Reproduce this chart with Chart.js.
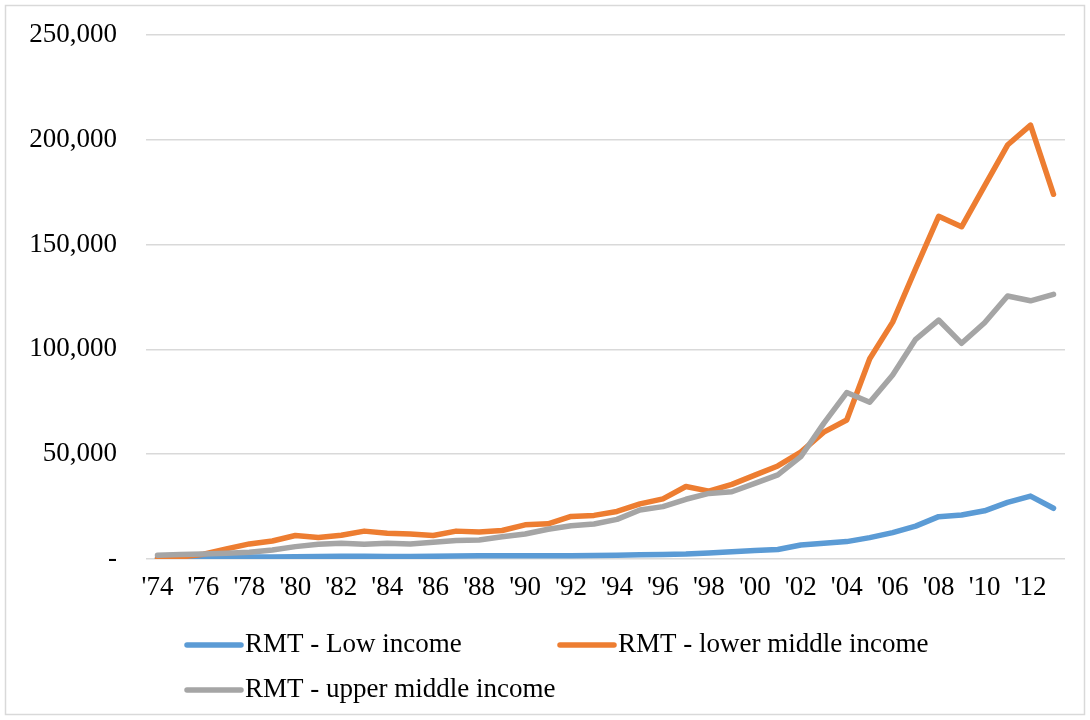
<!DOCTYPE html>
<html>
<head>
<meta charset="utf-8">
<title>RMT by income group</title>
<script src="https://cdn.jsdelivr.net/npm/chart.js@4.4.1/dist/chart.umd.min.js"></script>
<style>
  html, body { margin: 0; padding: 0; background: #ffffff; }
  #wrap { width: 1090px; height: 720px; position: relative; }
  canvas { display: block; }
</style>
</head>
<body>
<div id="wrap"><canvas id="chart" width="1090" height="720"></canvas></div>
<script>
// Years 1974–2013, shown as two-digit labels
const years = ["'74","'75","'76","'77","'78","'79","'80","'81","'82","'83",
               "'84","'85","'86","'87","'88","'89","'90","'91","'92","'93",
               "'94","'95","'96","'97","'98","'99","'00","'01","'02","'03",
               "'04","'05","'06","'07","'08","'09","'10","'11","'12","'13"];

const lowIncome = [500, 600, 700, 800, 900, 1000, 1100, 1200, 1300, 1300,
                   1200, 1200, 1300, 1400, 1500, 1500, 1500, 1500, 1600, 1700,
                   1800, 2000, 2200, 2400, 2900, 3500, 4000, 4500, 6700, 7500,
                   8300, 10200, 12600, 15700, 20200, 21000, 23000, 27000, 30000, 24200];

const lowerMiddleIncome = [300, 1000, 2300, 4800, 7200, 8600, 11200, 10300, 11300, 13300,
                           12300, 11900, 11200, 13300, 12900, 13600, 16300, 16800, 20300, 20800,
                           22700, 26300, 28700, 34600, 32400, 35600, 40000, 44400, 51000, 60500,
                           66300, 95500, 113000, 138500, 163500, 158500, 178000, 197500, 207000, 174000];

const upperMiddleIncome = [1800, 2200, 2400, 2700, 3200, 4300, 5900, 7000, 7500, 7000,
                           7500, 7200, 8000, 8800, 9100, 10600, 11900, 14200, 15900, 16700,
                           18900, 23400, 25000, 28500, 31300, 32100, 36100, 40100, 48800, 64700,
                           79400, 74800, 87800, 104800, 114000, 102900, 112700, 125500, 123200, 126300];

const seriesNames = ['RMT - Low income', 'RMT - lower middle income', 'RMT - upper middle income'];
const seriesColors = ['#5B9BD5', '#ED7D31', '#A5A5A5'];

const FONT = "'Liberation Serif', 'Times New Roman', serif";

// Background and thin outer frame
const framePlugin = {
  id: 'frame',
  beforeDraw(chart) {
    const ctx = chart.ctx;
    ctx.save();
    ctx.fillStyle = '#ffffff';
    ctx.fillRect(0, 0, chart.width, chart.height);
    ctx.strokeStyle = '#D9D9D9';
    ctx.lineWidth = 1.5;
    ctx.strokeRect(5.5, 5.5, chart.width - 11, chart.height - 11);
    ctx.restore();
  }
};

// Two-column legend laid out in a grid below the plot
const gridLegend = {
  id: 'gridLegend',
  afterDraw(chart) {
    const ctx = chart.ctx;
    const cols = [187, 560];
    const rows = [645, 690];
    const sample = 54;
    ctx.save();
    ctx.font = '27px ' + FONT;
    ctx.textBaseline = 'middle';
    ctx.textAlign = 'left';
    chart.data.datasets.forEach((ds, i) => {
      const x = cols[i % 2];
      const y = rows[Math.floor(i / 2)];
      ctx.strokeStyle = ds.borderColor;
      ctx.lineWidth = 5.5;
      ctx.lineCap = 'round';
      ctx.beginPath();
      ctx.moveTo(x, y);
      ctx.lineTo(x + sample, y);
      ctx.stroke();
      ctx.fillStyle = '#000000';
      ctx.fillText(ds.label, x + sample + 4, y);
    });
    ctx.restore();
  }
};

const makeSet = (i, data, order) => ({
  label: seriesNames[i],
  data: data,
  borderColor: seriesColors[i],
  backgroundColor: seriesColors[i],
  borderWidth: 5.5,
  borderCapStyle: 'round',
  borderJoinStyle: 'round',
  pointRadius: 0,
  pointHoverRadius: 0,
  tension: 0,
  fill: false,
  order: order
});

new Chart(document.getElementById('chart'), {
  type: 'line',
  data: {
    labels: years,
    datasets: [
      makeSet(0, lowIncome, 3),
      makeSet(1, lowerMiddleIncome, 2),
      makeSet(2, upperMiddleIncome, 1)
    ]
  },
  options: {
    responsive: false,
    animation: false,
    layout: { padding: { left: 30, right: 25, top: 35, bottom: 121 } },
    plugins: {
      legend: { display: false },
      tooltip: { enabled: false }
    },
    scales: {
      x: {
        type: 'category',
        offset: true,
        grid: { display: false, drawTicks: false },
        border: { display: false },
        ticks: {
          autoSkip: false,
          maxRotation: 0,
          minRotation: 0,
          padding: 13,
          color: '#000000',
          font: { family: FONT, size: 27 },
          callback: function (value, index) {
            return index % 2 === 0 ? this.getLabelForValue(value) : '';
          }
        },
        afterFit(scale) { scale.height = 40; }
      },
      y: {
        min: 0,
        max: 250000,
        grid: { color: '#D9D9D9', lineWidth: 1.5, drawTicks: true, tickLength: 25, tickColor: 'rgba(0,0,0,0)' },
        border: { display: false },
        ticks: {
          stepSize: 50000,
          padding: 4,
          color: '#000000',
          font: { family: FONT, size: 27 },
          callback: (v) => v === 0 ? '-' : v.toLocaleString('en-US')
        },
        afterFit(scale) { scale.width = 116; }
      }
    }
  },
  plugins: [framePlugin, gridLegend]
});
</script>
</body>
</html>
